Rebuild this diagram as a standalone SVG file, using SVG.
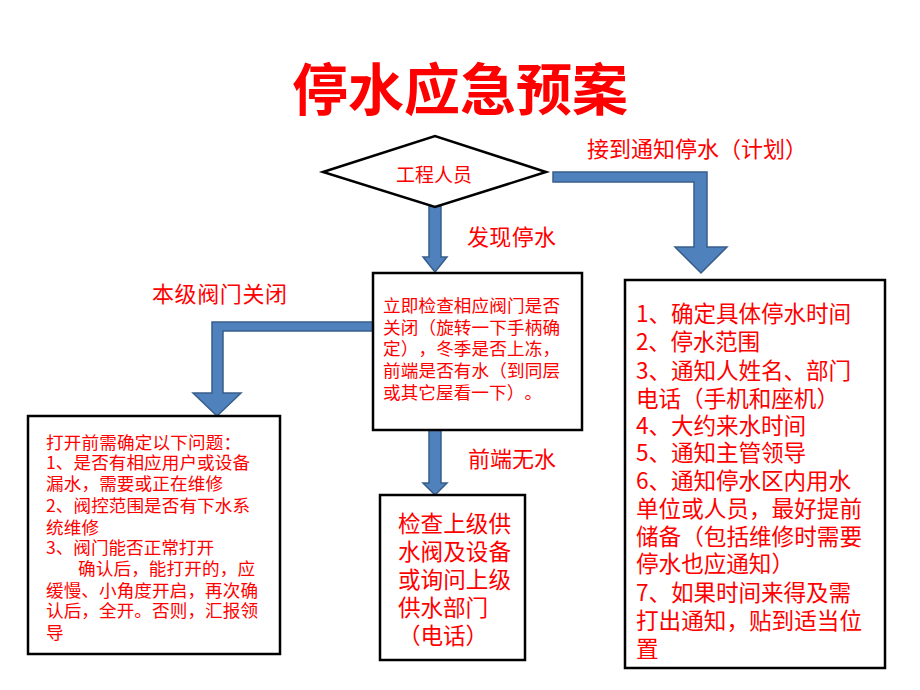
<svg xmlns="http://www.w3.org/2000/svg" width="920" height="690" viewBox="0 0 920 690">
<defs>
<style>
.t{font-family:"Noto Sans CJK SC","Liberation Sans",sans-serif;fill:#FF0000;text-spacing-trim:space-all;}
.box{fill:#FFFFFF;stroke:#000000;stroke-width:2.5;}
.arr{fill:#4F81BD;stroke:#385D8A;stroke-width:1.5;stroke-linejoin:miter;}
.lbl{font-size:22px;}
.s{font-size:17.6px;}
.m{font-size:22.6px;}
</style>
</defs>
<rect x="0" y="0" width="920" height="690" fill="#FFFFFF"/>
<text class="t" x="460" y="110" font-size="56" font-weight="bold" text-anchor="middle">停水应急预案</text>

<g id="connectors">
<polygon class="arr" points="429,206 441,206 441,257 447,257 435,272 423,257 429,257"/>
<polygon class="arr" points="553,172 707,172 707,247 727,247 701,273 675,247 694,247 694,182 553,182"/>
<polygon class="arr" points="373,322 212,322 212,393 193,393 217,416 241,393 223,393 223,331 373,331"/>
<polygon class="arr" points="429,430 441,430 441,483 447,483 435,495 423,483 429,483"/>
<text class="t lbl" x="587" y="156.5" textLength="220" lengthAdjust="spacing">接到通知停水（计划）</text>
<text class="t lbl" x="467" y="244.5" textLength="89" lengthAdjust="spacing">发现停水</text>
<text class="t lbl" x="152" y="301.5" textLength="135" lengthAdjust="spacing">本级阀门关闭</text>
<text class="t lbl" x="468" y="466.5" textLength="88" lengthAdjust="spacing">前端无水</text>
</g>

<g id="engineer">
<polygon class="box" points="323,172 435,136 546,172 435,207"/>
<text class="t" x="434" y="181.5" font-size="19" text-anchor="middle">工程人员</text>
</g>

<g id="check-valve">
<rect class="box" x="373" y="273" width="209" height="157"/>
<text class="t s" x="383" y="312" textLength="177" lengthAdjust="spacing">立即检查相应阀门是否</text>
<text class="t s" x="383" y="334" textLength="177" lengthAdjust="spacing">关闭（旋转一下手柄确</text>
<text class="t s" x="383" y="355" textLength="177" lengthAdjust="spacing">定），冬季是否上冻，</text>
<text class="t s" x="383" y="377" textLength="177" lengthAdjust="spacing">前端是否有水（到同层</text>
<text class="t s" x="383" y="399" textLength="159" lengthAdjust="spacing">或其它屋看一下）。</text>
</g>

<g id="before-open">
<rect class="box" x="28" y="416" width="252" height="238"/>
<text class="t s" x="46" y="449" textLength="195" lengthAdjust="spacing">打开前需确定以下问题：</text>
<text class="t s" x="46" y="469" textLength="204" lengthAdjust="spacing">1、是否有相应用户或设备</text>
<text class="t s" x="46" y="490" textLength="177" lengthAdjust="spacing">漏水，需要或正在维修</text>
<text class="t s" x="46" y="512" textLength="204" lengthAdjust="spacing">2、阀控范围是否有下水系</text>
<text class="t s" x="46" y="534" textLength="53" lengthAdjust="spacing">统维修</text>
<text class="t s" x="46" y="554" textLength="168" lengthAdjust="spacing">3、阀门能否正常打开</text>
<text class="t s" x="78" y="575" textLength="177" lengthAdjust="spacing">确认后，能打开的，应</text>
<text class="t s" x="46" y="597" textLength="212" lengthAdjust="spacing">缓慢、小角度开启，再次确</text>
<text class="t s" x="46" y="617" textLength="212" lengthAdjust="spacing">认后，全开。否则，汇报领</text>
<text class="t s" x="46" y="639">导</text>
</g>

<g id="upstream">
<rect class="box" x="380" y="495" width="145" height="165"/>
<text class="t m" x="398" y="531.5" textLength="113" lengthAdjust="spacing">检查上级供</text>
<text class="t m" x="398" y="560" textLength="113" lengthAdjust="spacing">水阀及设备</text>
<text class="t m" x="398" y="588" textLength="113" lengthAdjust="spacing">或询问上级</text>
<text class="t m" x="398" y="615.5" textLength="90" lengthAdjust="spacing">供水部门</text>
<text class="t m" x="398" y="643.5" textLength="90" lengthAdjust="spacing">（电话）</text>
</g>

<g id="planned">
<rect class="box" x="625" y="280" width="260" height="388"/>
<text class="t m" x="636" y="321.5" textLength="215" lengthAdjust="spacing">1、确定具体停水时间</text>
<text class="t m" x="636" y="350" textLength="124" lengthAdjust="spacing">2、停水范围</text>
<text class="t m" x="636" y="378.5" textLength="215" lengthAdjust="spacing">3、通知人姓名、部门</text>
<text class="t m" x="636" y="406.5" textLength="203" lengthAdjust="spacing">电话（手机和座机）</text>
<text class="t m" x="636" y="433.5" textLength="170" lengthAdjust="spacing">4、大约来水时间</text>
<text class="t m" x="636" y="460.5" textLength="170" lengthAdjust="spacing">5、通知主管领导</text>
<text class="t m" x="636" y="488.5" textLength="215" lengthAdjust="spacing">6、通知停水区内用水</text>
<text class="t m" x="636" y="516.5" textLength="226" lengthAdjust="spacing">单位或人员，最好提前</text>
<text class="t m" x="636" y="545" textLength="226" lengthAdjust="spacing">储备（包括维修时需要</text>
<text class="t m" x="636" y="571.5" textLength="158" lengthAdjust="spacing">停水也应通知）</text>
<text class="t m" x="636" y="600.5" textLength="215" lengthAdjust="spacing">7、如果时间来得及需</text>
<text class="t m" x="636" y="628.5" textLength="226" lengthAdjust="spacing">打出通知，贴到适当位</text>
<text class="t m" x="636" y="656.5">置</text>
</g>
</svg>
